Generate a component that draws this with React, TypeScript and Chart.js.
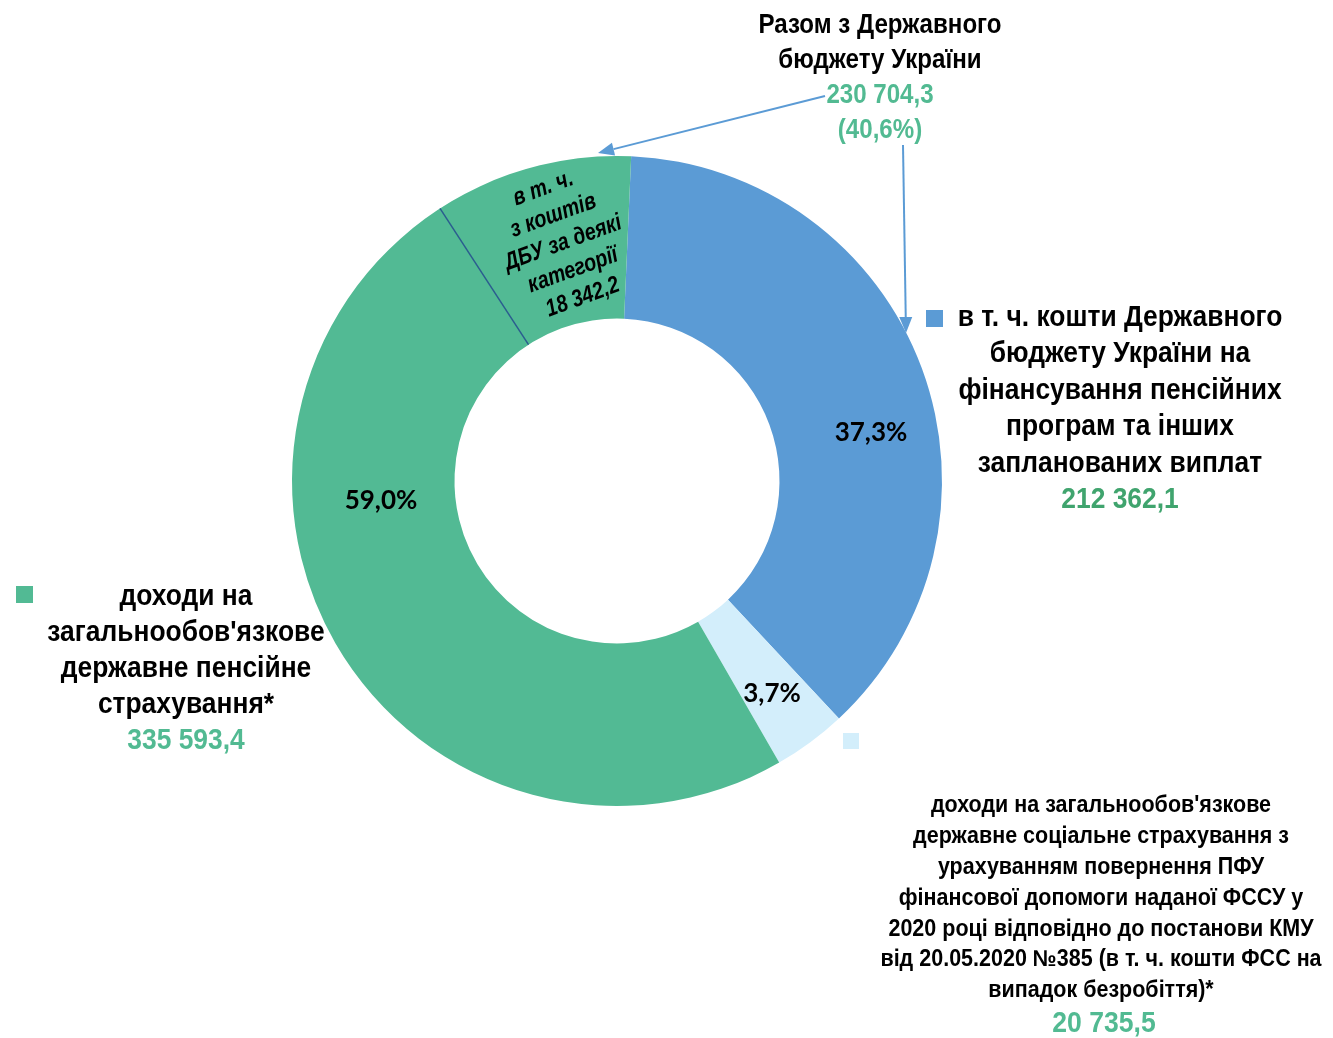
import React, { useEffect, useRef } from "react";
import { Chart, registerables } from "chart.js";

Chart.register(...registerables);

const categories = [
  "в т. ч. кошти Державного бюджету України на фінансування пенсійних програм та інших запланованих виплат",
  "доходи на загальнообов'язкове державне соціальне страхування",
  "доходи на загальнообов'язкове державне пенсійне страхування*",
];
const values = [212362.1, 20735.5, 335593.4];
const percentLabels = ["37,3%", "3,7%", "59,0%"];
const valueLabels = ["212 362,1", "20 735,5", "335 593,4"];
const colors = ["#5B9BD5", "#D3EEFB", "#52BA94"];
const totalBudgetLabel = "230 704,3";
const totalBudgetShare = "(40,6%)";
const subPartLabel = "18 342,2";

const GREEN = "#52BA92";
const DARK_GREEN = "#40A46E";

function hasFont(name: string): boolean {
  const c = document.createElement("canvas").getContext("2d")!;
  const s = "abcdefghijWWmmlli";
  c.font = "40px monospace";
  const a = c.measureText(s).width;
  c.font = `40px "${name}", monospace`;
  const b = c.measureText(s).width;
  return Math.abs(a - b) > 0.5;
}

export default function App() {
  const ref = useRef<HTMLCanvasElement | null>(null);

  useEffect(() => {
    const canvas = ref.current!;
    const narrow = hasFont("Liberation Sans Narrow");
    const family = narrow ? '"Liberation Sans Narrow"' : '"Liberation Sans"';
    const base = narrow ? 1 : 0.82;

    const text = (
      ctx: CanvasRenderingContext2D,
      s: string,
      x: number,
      y: number,
      size: number,
      color: string,
      stretch = 1,
      italic = false
    ) => {
      ctx.save();
      ctx.font = `${italic ? "italic " : ""}bold ${size}px ${family}, sans-serif`;
      ctx.fillStyle = color;
      ctx.textAlign = "center";
      ctx.textBaseline = "middle";
      ctx.translate(x, y);
      ctx.scale(base * stretch, 1);
      ctx.fillText(s, 0, 0);
      ctx.restore();
    };

    const block = (
      ctx: CanvasRenderingContext2D,
      lines: [string, string][],
      cx: number,
      y0: number,
      dy: number,
      size: number,
      stretch: number
    ) => {
      lines.forEach(([s, c], i) => text(ctx, s, cx, y0 + i * dy, size, c, stretch));
    };

    const arrow = (
      ctx: CanvasRenderingContext2D,
      x1: number,
      y1: number,
      x2: number,
      y2: number
    ) => {
      const ang = Math.atan2(y2 - y1, x2 - x1);
      const len = 16;
      const hw = 6.5;
      const bx = x2 - len * Math.cos(ang);
      const by = y2 - len * Math.sin(ang);
      ctx.save();
      ctx.strokeStyle = "#5B9BD5";
      ctx.fillStyle = "#5B9BD5";
      ctx.lineWidth = 2;
      ctx.beginPath();
      ctx.moveTo(x1, y1);
      ctx.lineTo(bx, by);
      ctx.stroke();
      ctx.beginPath();
      ctx.moveTo(x2, y2);
      ctx.lineTo(bx + hw * Math.sin(ang), by - hw * Math.cos(ang));
      ctx.lineTo(bx - hw * Math.sin(ang), by + hw * Math.cos(ang));
      ctx.closePath();
      ctx.fill();
      ctx.restore();
    };

    const annotations = {
      id: "annotations",
      afterDatasetsDraw(chart: any) {
        const ctx: CanvasRenderingContext2D = chart.ctx;
        const arc = chart.getDatasetMeta(0).data[0];
        const { x: cx, y: cy, innerRadius, outerRadius } = arc.getProps(
          ["x", "y", "innerRadius", "outerRadius"],
          true
        );

        // separator of the state-budget part inside the green slice
        const a = ((-33 - 90) * Math.PI) / 180;
        ctx.save();
        ctx.strokeStyle = "#2B5D8F";
        ctx.lineWidth = 1.5;
        ctx.beginPath();
        ctx.moveTo(cx + innerRadius * Math.cos(a), cy + innerRadius * Math.sin(a));
        ctx.lineTo(cx + outerRadius * Math.cos(a), cy + outerRadius * Math.sin(a));
        ctx.stroke();
        ctx.restore();

        // percent labels
        ctx.save();
        ctx.font = "bold 26px Lato, sans-serif";
        ctx.fillStyle = "#000";
        ctx.textAlign = "center";
        ctx.textBaseline = "middle";
        ctx.fillText(percentLabels[0], 871, 433);
        ctx.fillText(percentLabels[1], 772, 694);
        ctx.fillText(percentLabels[2], 381, 501);
        ctx.restore();

        // rotated sub-part label
        ctx.save();
        ctx.translate(563, 243);
        ctx.rotate((-20 * Math.PI) / 180);
        const sub = ["в т. ч.", "з коштів", "ДБУ за деякі", "категорії", subPartLabel];
        sub.forEach((s, i) => text(ctx, s, 0, (i - 2) * 29, 24, "#000", 1, true));
        ctx.restore();

        // legend squares
        ctx.save();
        ctx.fillStyle = colors[0];
        ctx.fillRect(926, 310, 17, 17);
        ctx.fillStyle = colors[2];
        ctx.fillRect(16, 586, 17, 17);
        ctx.fillStyle = colors[1];
        ctx.fillRect(843, 733, 16, 16);
        ctx.restore();

        // top block
        block(
          ctx,
          [
            ["Разом з Державного", "#000"],
            ["бюджету України", "#000"],
            [totalBudgetLabel, GREEN],
            [totalBudgetShare, GREEN],
          ],
          880,
          25,
          35,
          28,
          1.05
        );

        // right block
        block(
          ctx,
          [
            ["в т. ч. кошти Державного", "#000"],
            ["бюджету України на", "#000"],
            ["фінансування пенсійних", "#000"],
            ["програм та інших", "#000"],
            ["запланованих виплат", "#000"],
            [valueLabels[0], DARK_GREEN],
          ],
          1120,
          318,
          36.4,
          29,
          1.11
        );

        // left block
        block(
          ctx,
          [
            ["доходи на", "#000"],
            ["загальнообов'язкове", "#000"],
            ["державне пенсійне", "#000"],
            ["страхування*", "#000"],
            [valueLabels[2], GREEN],
          ],
          186,
          597,
          36,
          29,
          1.11
        );

        // bottom-right block
        block(
          ctx,
          [
            ["доходи на загальнообов'язкове", "#000"],
            ["державне соціальне страхування з", "#000"],
            ["урахуванням повернення ПФУ", "#000"],
            ["фінансової допомоги наданої ФССУ у", "#000"],
            ["2020 році відповідно до постанови КМУ", "#000"],
            ["від 20.05.2020 №385 (в т. ч. кошти ФСС на", "#000"],
            ["випадок безробіття)*", "#000"],
          ],
          1101,
          806,
          30.8,
          23,
          1.14
        );
        text(ctx, valueLabels[1], 1104, 1024, 30, GREEN, 1.08);

        // arrows
        arrow(ctx, 825, 96, 598, 153);
        arrow(ctx, 903, 145, 906, 333);
      },
    };

    const chart = new Chart(canvas, {
      type: "doughnut",
      data: {
        labels: categories,
        datasets: [
          {
            data: values,
            backgroundColor: colors,
            borderWidth: 0,
          },
        ],
      },
      options: {
        animation: false,
        responsive: false,
        maintainAspectRatio: false,
        rotation: 2.5,
        cutout: "50%",
        layout: { padding: { left: 292, right: 391, top: 156, bottom: 232 } },
        plugins: {
          legend: { display: false },
          tooltip: { enabled: false },
        },
      },
      plugins: [annotations],
    });
    return () => chart.destroy();
  }, []);

  return (
    <div style={{ position: "absolute", left: 0, top: 0, width: 1333, height: 1038, background: "#fff" }}>
      <canvas ref={ref} width={1333} height={1038} style={{ width: 1333, height: 1038 }} />
    </div>
  );
}
